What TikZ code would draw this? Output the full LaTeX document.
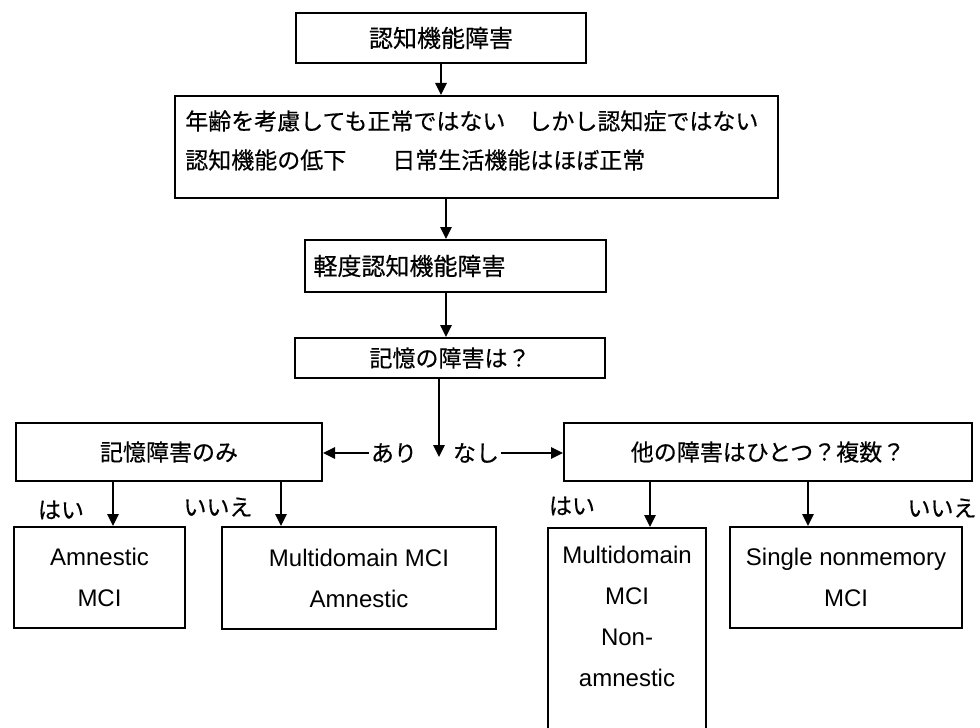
\documentclass[tikz,border=0pt]{standalone}
\usepackage{fontspec}
\setmainfont{Liberation Sans}
\newfontfamily\jp[FakeBold=0.4]{Noto Sans CJK JP}
\usetikzlibrary{arrows.meta}
\begin{document}
\begin{tikzpicture}[x=0.75pt,y=-0.75pt,
  box/.style={draw=black, line width=1.5pt, inner sep=0pt, align=center},
  arr/.style={draw=black, line width=1.2pt, -{Triangle[length=9pt,width=8.5pt]}},
  jt/.style={font=\jp\fontsize{17.25pt}{29.25pt}\selectfont},
  jl/.style={font=\jp\fontsize{18pt}{29.25pt}\selectfont},
  et/.style={font=\fontsize{18pt}{30.75pt}\selectfont},
  lab/.style={jt, inner sep=1.5pt}]
\clip (0,0) rectangle (980,727);
\fill[white] (0,0) rectangle (980,727);

% boxes
\node[box, jl, minimum width=217.5pt, minimum height=37.5pt] (b1) at (441,38) {認知機能障害};
\node[box, minimum width=452.25pt, minimum height=76.5pt] (b2) at (476.5,147) {};
\node[jt, align=left, anchor=west, inner sep=0pt] (t2) at (185,140.5)
  {年齢を考慮しても正常ではない　しかし認知症ではない\\認知機能の低下　　日常生活機能はほぼ正常};
\node[box, jl, align=left, text width=213pt, minimum width=225.75pt, minimum height=39pt] (b3) at (455.5,266) {軽度認知機能障害};
\node[box, jt, minimum width=232.5pt, minimum height=30pt] (b4) at (450,358) {記憶の障害は？};
\node[box, jt, minimum width=229.5pt, minimum height=43.5pt] (b5) at (169,452) {記憶障害のみ};
\node[box, jt, minimum width=306pt, minimum height=43.5pt] (b6) at (768,452) {他の障害はひとつ？複数？};
\node[box, et, minimum width=128.25pt, minimum height=75.75pt] (b7) at (99.5,577.5) {Amnestic\\MCI};
\node[box, et, minimum width=205.5pt, minimum height=76.5pt] (b8) at (359,578) {Multidomain MCI\\Amnestic};
\node[box, minimum width=118.5pt, minimum height=174pt] (b9) at (627,644) {};
\node[et, align=center, inner sep=0pt] (t9) at (627,616.5) {Multidomain\\MCI\\Non-\\amnestic};
\node[box, et, minimum width=174pt, minimum height=75.75pt] (b10) at (846,577.5) {Single nonmemory\\MCI};

% main chain
\draw[arr] (b1.south) -- (b1.south |- b2.north);
\coordinate (c2) at (446,0);
\draw[arr] (b2.south -| c2) -- (b3.north -| c2);
\draw[arr] (b3.south -| c2) -- (b4.north -| c2);
\coordinate (j) at (439,457);
\draw[arr] (b4.south -| j) -- (j);

% branch labels
\node[lab] (ari) at (394,453) {あり};
\node[lab] (nashi) at (476,453) {なし};
\draw[arr] (ari.west) -- (ari.west -| b5.east);
\draw[arr] (nashi.east) -- (nashi.east -| b6.west);

% lower arrows
\coordinate (x1) at (113,0);
\coordinate (x2) at (281,0);
\coordinate (x3) at (650,0);
\coordinate (x4) at (808,0);
\draw[arr] (b5.south -| x1) -- (b7.north -| x1);
\draw[arr] (b5.south -| x2) -- (b8.north -| x2);
\draw[arr] (b6.south -| x3) -- (b9.north -| x3);
\draw[arr] (b6.south -| x4) -- (b10.north -| x4);

\node[lab] (l1) at (61,510) {はい};
\node[lab] (l2) at (218,507) {いいえ};
\node[lab] (l3) at (572,506) {はい};
\node[lab] (l4) at (942,508) {いいえ};
\end{tikzpicture}
\end{document}
